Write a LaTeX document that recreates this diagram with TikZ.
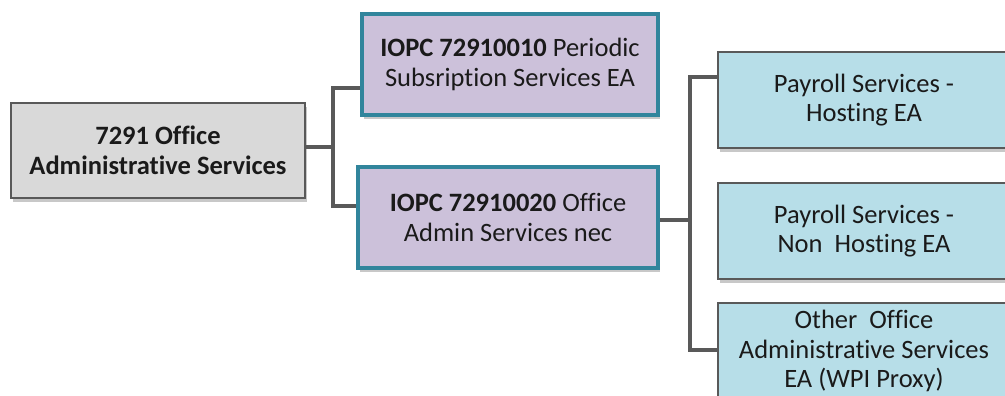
\documentclass[tikz,border=0pt]{standalone}
\usepackage{fontspec}
\setmainfont{Carlito}[Ligatures={NoCommon}]
\usetikzlibrary{shadows}
\definecolor{rootfill}{HTML}{D9D9D9}
\definecolor{greyline}{HTML}{595959}
\definecolor{midfill}{HTML}{CCC1DA}
\definecolor{midline}{HTML}{31859C}
\definecolor{leaffill}{HTML}{B7DEE8}
\definecolor{inktext}{HTML}{1A1A1A}
\tikzset{
  box/.style={rectangle, align=center, inner sep=0pt, text=inktext,
    font=\fontsize{26.5}{29.5}\selectfont,
    drop shadow={shadow xshift=2pt, shadow yshift=-4pt, opacity=.3, fill=black!70}},
  rootbox/.style={box, fill=rootfill, draw=greyline, line width=2.5pt},
  midbox/.style={box, fill=midfill, draw=midline, line width=4.5pt},
  leafbox/.style={box, fill=leaffill, draw=greyline, line width=2.5pt},
  conn/.style={draw=greyline, line width=4pt}
}
\begin{document}
\begin{tikzpicture}[x=1pt,y=-1pt]
  \clip (0,0) rectangle (1005,396);
  \fill[white] (0,0) rectangle (1005,396);

  % connector joints
  \coordinate (j1) at (333,147);
  \coordinate (a1) at (333,88);
  \coordinate (a2) at (333,206);
  \coordinate (j2) at (690,220);
  \coordinate (b1) at (690,77);
  \coordinate (b3) at (690,350);

  % boxes
  \node[rootbox, minimum width=294pt, minimum height=95pt] (root) at (158,150.5)
    {\textbf{7291 Office}\\\textbf{Administrative Services}};
  \node[midbox, minimum width=296pt, minimum height=101pt] (m1) at (510,64.5)
    {\textbf{IOPC 72910010} Periodic\\Subsription Services EA};
  \node[midbox, minimum width=300pt, minimum height=101pt] (m2) at (508,217.5)
    {\textbf{IOPC 72910020} Office\\Admin Services nec};
  \node[leafbox, minimum width=292pt, minimum height=96pt] (r1) at (864,100)
    {Payroll Services -\\Hosting EA};
  \node[leafbox, minimum width=292pt, minimum height=96pt] (r2) at (864,231)
    {Payroll Services -\\Non\ \ Hosting EA};
  \node[leafbox, minimum width=292pt, minimum height=96pt] (r3) at (864,351)
    {Other\ \ Office\\Administrative Services\\EA (WPI Proxy)};

  % connectors
  \draw[conn] (root.east |- j1) -- (j1);
  \draw[conn] (m1.west |- a1) -- (a1) -- (a2) -- (m2.west |- a2);
  \draw[conn] (m2.east |- j2) -- (j2);
  \draw[conn] (r1.west |- b1) -- (b1) -- (b3) -- (r3.west |- b3);
\end{tikzpicture}
\end{document}
